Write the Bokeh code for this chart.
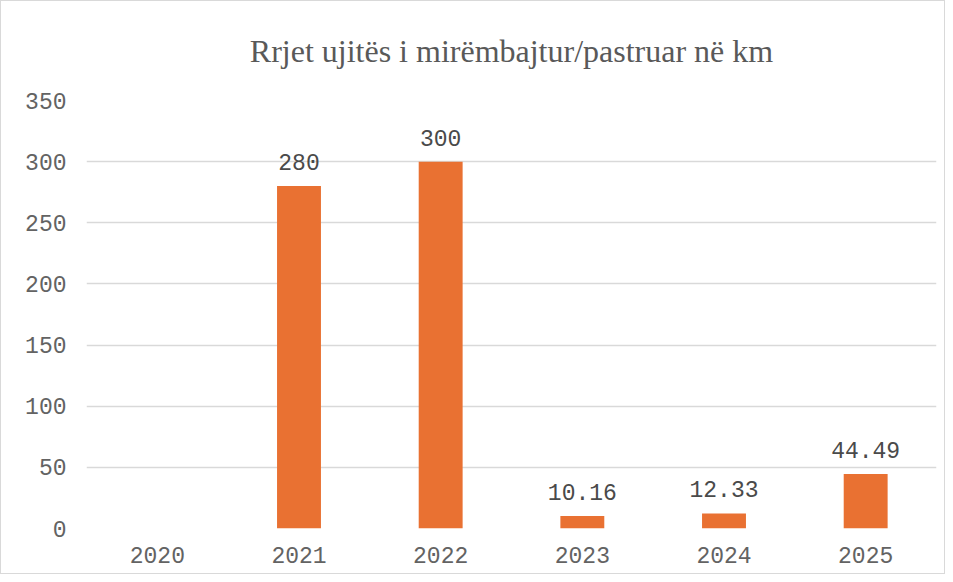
from bokeh.plotting import figure
from bokeh.models import ColumnDataSource, Title, Range1d
from bokeh.core.properties import value
from bokeh.embed import file_html
from bokeh.resources import INLINE

years = ["2020", "2021", "2022", "2023", "2024", "2025"]
values = [0, 280, 300, 10.16, 12.33, 44.49]
labels = ["", "280", "300", "10.16", "12.33", "44.49"]
y_ticks = [0, 50, 100, 150, 200, 250, 300, 350]
title_text = "Rrjet ujitës i mirëmbajtur/pastruar në km"

src = ColumnDataSource(dict(x=years, top=values, lab=labels))

p = figure(x_range=years, y_range=Range1d(0, 350), width=945, height=574,
           output_backend="svg", toolbar_location=None,
           min_border_left=85, min_border_right=10, min_border_top=0, min_border_bottom=47)
p.styles = {"border": "1px solid #d9d9d9"}

p.title = Title(text=title_text, align="center", text_font="Liberation Serif",
                text_font_size="32px", text_font_style="normal", text_color="#595959",
                vertical_align="middle", standoff=61)

p.vbar(x="x", top="top", width=0.31, source=src, fill_color="#E97132", line_color=None)
p.text(x="x", y="top", text="lab", source=src, text_font=value("Liberation Mono"),
       text_font_size="23px", text_color="#4a4a4a", text_align="center",
       text_baseline="alphabetic", y_offset=-24)

p.yaxis.ticker = y_ticks
p.outline_line_color = None
p.xgrid.grid_line_color = None
p.ygrid.grid_line_color = "#d9d9d9"
p.ygrid.grid_line_width = 1.5
for ax in (p.xaxis, p.yaxis):
    ax.axis_line_color = None
    ax.major_tick_line_color = None
    ax.minor_tick_line_color = None
    ax.major_tick_out = 0
    ax.major_tick_in = 0
    ax.minor_tick_out = 0
    ax.major_label_text_font = "Liberation Mono"
    ax.major_label_text_font_size = "23px"
    ax.major_label_text_color = "#636363"
p.yaxis.major_label_standoff = 20
p.xaxis.major_label_standoff = 18
p.x_range.range_padding = 0

open("out.html", "w").write(file_html(p, INLINE))
